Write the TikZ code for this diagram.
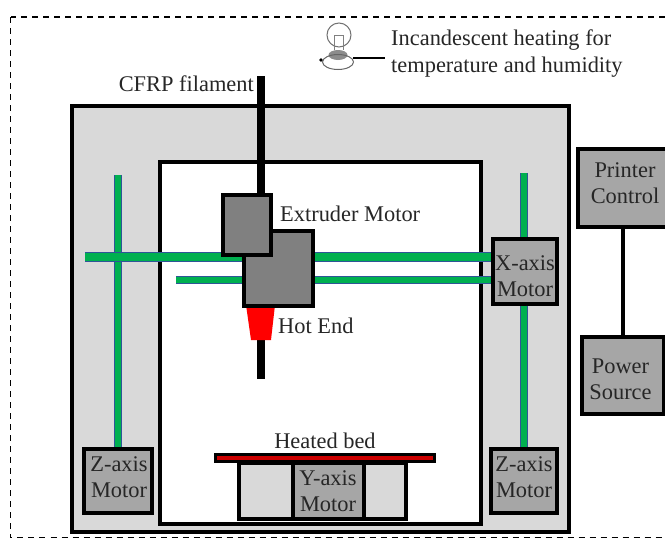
\documentclass[tikz,border=0pt]{standalone}
\usepackage{fontspec}
\usetikzlibrary{shapes.geometric}
\setmainfont{Liberation Serif}
\tikzset{
  frame/.style={draw=black, line width=4pt, inner sep=0pt},
  motor/.style={frame, fill=motorgray},
  motortext/.style={inner sep=0pt, text=black!85, align=center, font=\fontsize{22.4}{26}\selectfont},
  label/.style={inner sep=0pt, text=black!85, align=left, font=\fontsize{22.4}{27}\selectfont},
  rail/.style={draw=railblue, double=railgreen, double distance=5.4pt, line width=1.3pt},
  fatrail/.style={rail, double distance=8pt},
  wire/.style={draw=black, line width=4pt},
  filament/.style={draw=black, line width=8pt}
}
\definecolor{framegray}{HTML}{D9D9D9}
\definecolor{motorgray}{HTML}{A6A6A6}
\definecolor{headgray}{HTML}{808080}
\definecolor{railblue}{HTML}{2F5597}
\definecolor{railgreen}{HTML}{00B050}
\begin{document}
\begin{tikzpicture}[x=1pt, y=-1pt]
\useasboundingbox (0,0) rectangle (665,538);
\clip (0,0) rectangle (665,538);

% enclosure
\draw[dashed, line width=1.5pt, dash pattern=on 6pt off 5pt] (10.5,17) rectangle (680,538);
\node[frame, fill=framegray, minimum width=497pt, minimum height=426pt] (outer) at (320.5,319) {};
\node[frame, fill=white, minimum width=321pt, minimum height=362pt] (inner) at (320.5,342.5) {};

% rail ends
\coordinate (zltop) at (118,175);
\coordinate (zrtop) at (524,173);
\coordinate (xa) at (85,257);
\coordinate (xb) at (176,280);

% motors
\node[motor, minimum width=64pt, minimum height=65pt] (xmotor) at (525,271) {};
\node[motor, minimum width=68pt, minimum height=64pt] (zleft) at (118,480.5) {};
\node[motor, minimum width=66pt, minimum height=64pt] (zright) at (524,480.5) {};

% rails
\draw[rail] (zltop) -- (zltop |- zleft.north);
\draw[rail] (zrtop) -- (zrtop |- xmotor.north);
\draw[rail] (zrtop |- xmotor.south) -- (zrtop |- zright.north);
\draw[fatrail] (xa) -- (xa -| xmotor.west);
\draw[rail] (xb) -- (xb -| xmotor.west);

% filament and extruder
\coordinate (fila) at (261,76);
\coordinate (filb) at (261,379);
\draw[filament] (fila) -- (filb);
\fill[red] (246,305) -- (275,305) -- (271,340) -- (251,340) -- cycle;
\node[frame, fill=headgray, minimum width=69pt, minimum height=75pt] (head) at (278.5,268.5) {};
\node[frame, fill=headgray, minimum width=48pt, minimum height=60pt] (extruder) at (247,225) {};

% bed
\node[frame, fill=framegray, minimum width=167pt, minimum height=56pt] (ybox) at (322.5,491) {};
\node[motor, minimum width=71pt, minimum height=56pt] (ymotor) at (328.5,491) {};
\node[draw=black, line width=3pt, fill=red!80!black, minimum width=219pt, minimum height=7pt, inner sep=0pt] (bed) at (324.5,458) {};

% control side
\node[motor, minimum width=90pt, minimum height=78pt] (control) at (623,188) {};
\node[motor, minimum width=82pt, minimum height=77pt] (power) at (623,375) {};
\draw[wire] (control.south) -- (power.north);

% motor texts
\node[motortext] (xtext) at (525,276) {X-axis\\Motor};
\node[motortext] (zltext) at (119,477) {Z-axis\\Motor};
\node[motortext] (zrtext) at (524,477) {Z-axis\\Motor};
\node[motortext] (ytext) at (328,491) {Y-axis\\Motor};
\node[motortext] (controltext) at (625,183.5) {Printer\\Control};
\node[motortext] (powertext) at (620.5,379) {Power\\Source};

% lamp
\node[circle, draw=black!55, line width=1pt, minimum size=24pt, inner sep=0pt] (bulb) at (339,35) {};
\draw[black!50, line width=1pt] (334,50) -- (334,35) -- (343,35) -- (343,50);
\node[ellipse, fill=black!45, minimum width=19pt, minimum height=10pt, inner sep=0pt] (base) at (338,55) {};
\node[ellipse, draw=black!60, line width=1pt, minimum width=31pt, minimum height=15pt, inner sep=0pt] (swirl) at (338,62) {};
\fill[black] (321,60) circle (1.8pt);

% labels
\coordinate (lamp) at (353,58);
\coordinate (lampend) at (385,58);
\draw[black, line width=2pt] (lamp) -- (lampend);
\node[label, anchor=west] (heat) at (391,53.5) {Incandescent heating for\\temperature and humidity};
\node[label, anchor=east] (cfrp) at (254,84) {CFRP filament};
\node[label, anchor=west] (extlabel) at (280,214) {Extruder Motor};
\node[label, anchor=west] (hotlabel) at (278,326) {Hot End};
\node[label] (bedlabel) at (325,441) {Heated bed};
\end{tikzpicture}
\end{document}
